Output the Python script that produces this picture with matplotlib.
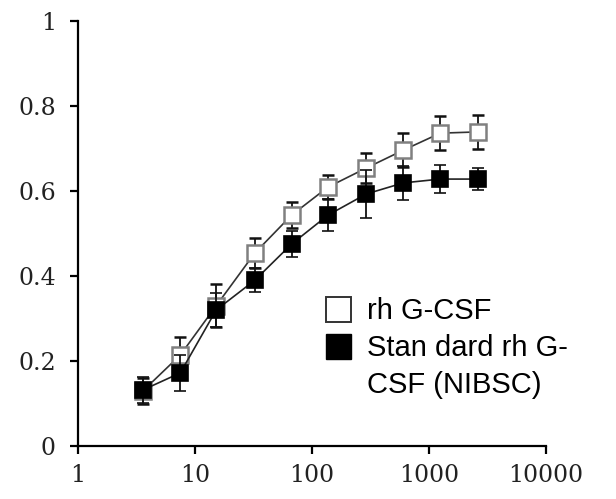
import matplotlib.pyplot as plt
from matplotlib.lines import Line2D

# concentration (log axis) and responses
conc = [3.6, 7.5, 15.2, 32.5, 67, 137, 292, 605, 1250, 2640]
rh_mean = [0.130, 0.214, 0.330, 0.454, 0.543, 0.609, 0.654, 0.696, 0.736, 0.739]
rh_err = [0.030, 0.042, 0.050, 0.036, 0.030, 0.029, 0.036, 0.040, 0.040, 0.040]
std_mean = [0.132, 0.172, 0.320, 0.390, 0.475, 0.543, 0.593, 0.619, 0.628, 0.628]
std_err = [0.030, 0.042, 0.040, 0.028, 0.030, 0.037, 0.057, 0.040, 0.033, 0.026]

x_ticks = [1, 10, 100, 1000, 10000]
y_ticks = [0, 0.2, 0.4, 0.6, 0.8, 1]
# second label wraps onto a third line, marker sits on the first one
labels = ['rh G-CSF', 'Stan dard rh G-', 'CSF (NIBSC)']

fig = plt.figure(figsize=(6.16, 4.99), dpi=100)
ax = fig.add_axes([0.1266, 0.1062, 0.886 - 0.1266, 0.958 - 0.1062])

ax.errorbar(conc, rh_mean, yerr=rh_err, fmt='s-', color='#333333', lw=1.2,
            ecolor='#111111', elinewidth=1.3, capsize=4.5, capthick=1.3,
            ms=12, mfc='white', mec='#808080', mew=1.8, zorder=3)
ax.errorbar(conc, std_mean, yerr=std_err, fmt='s-', color='#222222', lw=1.2,
            ecolor='#111111', elinewidth=1.3, capsize=4.5, capthick=1.3,
            ms=12, mfc='black', mec='black', mew=1.2, zorder=4)

ax.set_xscale('log')
ax.set_xlim(1, 10000)
ax.set_ylim(0, 1)
ax.set_xticks(x_ticks)
ax.set_xticklabels([str(t) for t in x_ticks])
ax.set_yticks(y_ticks)
ax.set_yticklabels(['0', '0.2', '0.4', '0.6', '0.8', '1'])
ax.minorticks_off()

for s in ['top', 'right']:
    ax.spines[s].set_visible(False)
for s in ['left', 'bottom']:
    ax.spines[s].set_linewidth(1.6)
ax.tick_params(axis='both', direction='out', length=6, width=1.6,
               labelsize=17, colors='black')
ax.tick_params(axis='x', pad=7)
ax.tick_params(axis='y', pad=10)
for lab in ax.get_xticklabels() + ax.get_yticklabels():
    lab.set_family('DejaVu Serif')
    lab.set_color('#222222')

handles = [
    Line2D([], [], marker='s', ls='none', ms=18, mfc='white', mec='#333333', mew=1.4),
    Line2D([], [], marker='s', ls='none', ms=18, mfc='black', mec='black'),
    Line2D([], [], ls='none'),
]
ax.legend(handles, labels, loc='upper left', bbox_to_anchor=(0.5, 0.378),
          frameon=False, handlelength=1.0, handletextpad=0.5,
          labelspacing=0.3, borderaxespad=0,
          prop={'family': 'Liberation Sans', 'size': 21})

fig.savefig('out.png', dpi=100)
